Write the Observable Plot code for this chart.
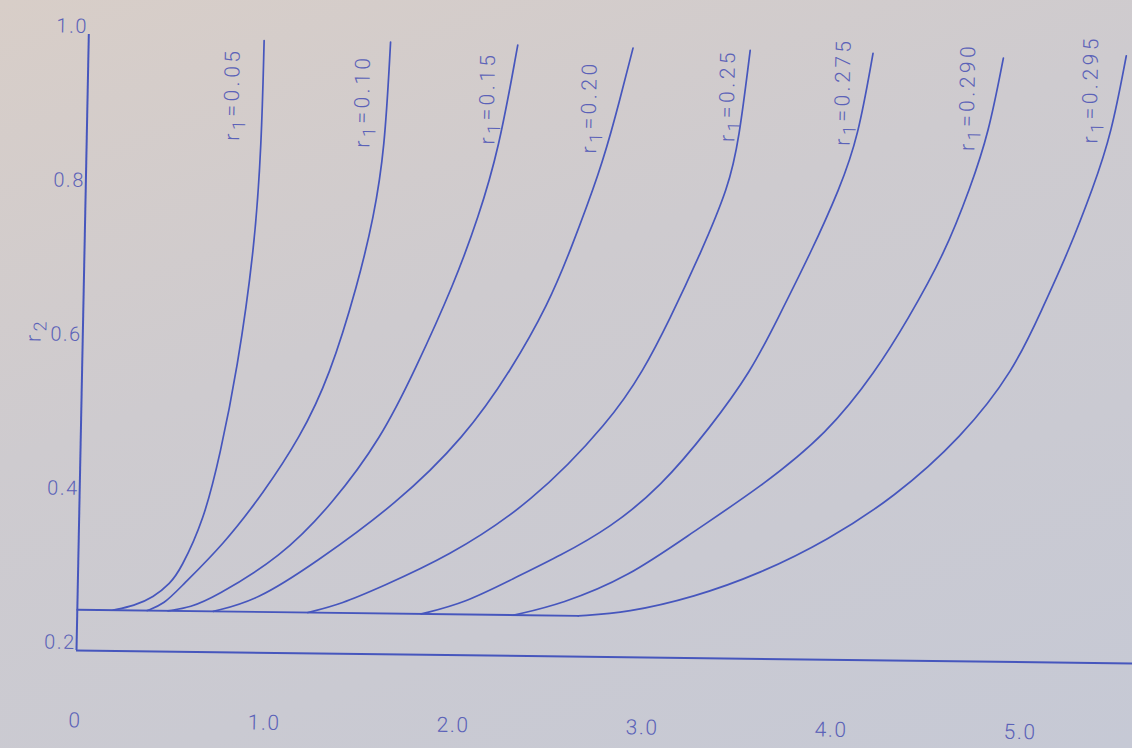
<!DOCTYPE html>
<html><head><meta charset="utf-8">
<script src="https://cdn.jsdelivr.net/npm/d3@7"></script>
<script src="https://cdn.jsdelivr.net/npm/@observablehq/plot@0.6"></script>
<style>
html,body{margin:0;padding:0;width:1132px;height:748px;overflow:hidden;}
body{background:linear-gradient(160deg,#d8cec8 0%,#cecbcf 40%,#c6c9d5 100%);}
#chart svg{display:block;transform-origin:76px 650px;transform:matrix(1,0.0123,-0.02,1,0,0);overflow:visible;}
#chart svg text{font-weight:300;}
#chart g[aria-label="text"] text{letter-spacing:3.5px;}
#chart g[aria-label$="tick label"] text{letter-spacing:1.5px;}
</style></head><body><div id="chart"></div>
<script>
// r1 parameter of each curve and its label
const r1Values = ["0.05","0.10","0.15","0.20","0.25","0.275","0.290","0.295"];
const curveLabels = ["r₁=0.05","r₁=0.10","r₁=0.15","r₁=0.20","r₁=0.25","r₁=0.275","r₁=0.290","r₁=0.295"];
const labelX = [0.77, 1.46, 2.12, 2.66, 3.39, 4.00, 4.66, 5.31];
const labelY = [0.925, 0.918, 0.924, 0.914, 0.931, 0.938, 0.933, 0.945];

// common base line r2 = 0.253 from the r2 axis to where the last curve leaves it
const baseX = [0, 2.65];
const baseY = [0.253, 0.253];

// curve points (x, r2); each starts where it leaves the base line
const x_005 = [0.19, 0.30, 0.40, 0.49, 0.54, 0.66, 0.74, 0.82, 0.90, 0.925, 0.928];
const y_005 = [0.253, 0.259, 0.270, 0.289, 0.306, 0.371, 0.458, 0.566, 0.726, 0.86, 0.995];
const x_010 = [0.37, 0.46, 0.54, 0.77, 0.97, 1.16, 1.31, 1.45, 1.526, 1.577, 1.597];
const y_010 = [0.253, 0.262, 0.283, 0.341, 0.407, 0.480, 0.560, 0.681, 0.767, 0.854, 0.995];
const x_015 = [0.48, 0.60, 0.72, 1.07, 1.34, 1.59, 1.76, 1.96, 2.08, 2.18, 2.27];
const y_015 = [0.253, 0.258, 0.271, 0.324, 0.395, 0.481, 0.569, 0.683, 0.769, 0.856, 0.993];
const x_020 = [0.72, 0.95, 1.25, 1.68, 2.03, 2.27, 2.46, 2.57, 2.72, 2.79, 2.88];
const y_020 = [0.253, 0.268, 0.317, 0.396, 0.483, 0.571, 0.658, 0.727, 0.832, 0.897, 0.991];
const x_025 = [1.22, 1.40, 1.60, 1.95, 2.39, 2.80, 2.97, 3.10, 3.26, 3.40, 3.45, 3.50];
const y_025 = [0.253, 0.265, 0.287, 0.327, 0.398, 0.507, 0.573, 0.638, 0.726, 0.812, 0.873, 0.990];
const x_0275 = [1.82, 2.05, 2.30, 2.55, 2.81, 3.07, 3.33, 3.54, 3.67, 3.84, 3.99, 4.08, 4.15];
const y_0275 = [0.253, 0.268, 0.300, 0.331, 0.368, 0.421, 0.500, 0.574, 0.640, 0.727, 0.813, 0.879, 0.988];
const x_0290 = [2.31, 2.56, 2.91, 3.25, 3.60, 3.95, 4.20, 4.36, 4.55, 4.68, 4.77, 4.84];
const y_0290 = [0.253, 0.268, 0.304, 0.364, 0.423, 0.494, 0.576, 0.642, 0.729, 0.816, 0.886, 0.984];
const x_0295 = [2.65, 2.91, 3.26, 3.61, 3.96, 4.31, 4.66, 4.93, 5.075, 5.20, 5.33, 5.42, 5.49];
const y_0295 = [0.253, 0.258, 0.279, 0.311, 0.355, 0.412, 0.491, 0.579, 0.661, 0.731, 0.818, 0.888, 0.989];

// axis ticks
const xTicks = [0, 1, 2, 3, 4, 5];
const xTickLabels = ["0", "1.0", "2.0", "3.0", "4.0", "5.0"];
const yTicks = [0.2, 0.4, 0.6, 0.8, 1.0];
const yTickLabels = ["0.2", "0.4", "0.6", "0.8", "1.0"];
const yTitle = "r₂";
const xMax = 5.587;

const seriesX = [x_005, x_010, x_015, x_020, x_025, x_0275, x_0290, x_0295];
const seriesY = [y_005, y_010, y_015, y_020, y_025, y_0275, y_0290, y_0295];
const rows = [];
seriesX.forEach((xs, k) => xs.forEach((x, i) => rows.push({r1: r1Values[k], x, y: seriesY[k][i]})));
const baseRows = baseX.map((x, i) => ({x, y: baseY[i]}));
const labelRows = curveLabels.map((t, i) => ({t, x: labelX[i], y: labelY[i]}));
const xFmt = new Map(xTicks.map((d, i) => [d, xTickLabels[i]]));
const yFmt = new Map(yTicks.map((d, i) => [d, yTickLabels[i]]));

const ink = "#4656bd";
const textInk = "#5b62b8";

const chart = Plot.plot({
  width: 1132, height: 748,
  marginLeft: 76, marginRight: 0, marginTop: 34, marginBottom: 98,
  x: {domain: [0, xMax], label: null},
  y: {domain: [0.2, 1.0], label: null},
  style: {background: "transparent", fontFamily: "Roboto, 'DejaVu Sans', sans-serif", overflow: "visible"},
  marks: [
    Plot.ruleY([0.2], {x1: 0, x2: xMax, stroke: ink, strokeWidth: 2}),
    Plot.ruleX([0], {y1: 0.2, y2: 1.0, stroke: ink, strokeWidth: 2}),
    Plot.line(baseRows, {x: "x", y: "y", stroke: ink, strokeWidth: 1.9}),
    Plot.line(rows, {x: "x", y: "y", z: "r1", curve: "basis", stroke: ink, strokeWidth: 1.7}),
    Plot.text(labelRows, {x: "x", y: "y", text: "t", rotate: -90, fontSize: 21, fill: textInk}),
    Plot.text([yTitle], {frameAnchor: "left", text: d => d, dx: -49, rotate: -90, fontSize: 21, fill: textInk}),
    Plot.axisX(xTicks, {tickFormat: d => xFmt.get(d), tickSize: 0, tickPadding: 62, fontSize: 21, fill: textInk}),
    Plot.axisY(yTicks, {tickFormat: d => yFmt.get(d), tickSize: 0, tickPadding: 1, fontSize: 20, fill: textInk, dy: -8})
  ]
});

// typeset the subscripts (r₁, r₂) as lowered digits, as in the original lettering
chart.querySelectorAll("text").forEach(el => {
  const s = el.textContent;
  const m = s.match(/^(.*?)([₁₂])(.*)$/);
  if (!m) return;
  const sub = m[2] === "₁" ? "1" : "2";
  el.textContent = "";
  const t = d3.select(el);
  t.append("tspan").text(m[1]);
  t.append("tspan").attr("dy", "0.32em").attr("font-size", "0.85em").text(sub);
  if (m[3]) t.append("tspan").attr("dy", "-0.32em").text(m[3]);
});
document.getElementById("chart").append(chart);
</script>
</body></html>
